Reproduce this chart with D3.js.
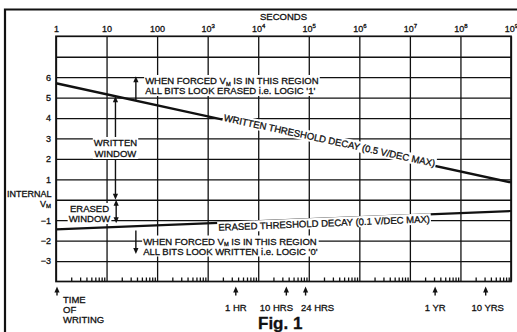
<!DOCTYPE html>
<html>
<head>
<meta charset="utf-8">
<script src="https://cdn.jsdelivr.net/npm/d3@7"></script>
<style>
  body { margin: 0; background: #fff; }
  svg { display: block; font-family: "Liberation Sans", Arial, Helvetica, sans-serif; }
  svg text { stroke: #111; stroke-width: 0.3; }
  .grid line { stroke: #111; stroke-width: 1.3; }
  .grid path { display: none; }
</style>
</head>
<body>
<svg id="chart" width="517" height="332"></svg>
<script>
// Time axis decades (seconds) and their printed labels ("10^n" = superscript)
const decades = [1, 1e1, 1e2, 1e3, 1e4, 1e5, 1e6, 1e7, 1e8, 1e9];
const decadeLabels = ["1", "10", "100", "10^3", "10^4", "10^5", "10^6", "10^7", "10^8", "10^9"];

// Voltage axis: grid rows and printed labels
const gridVolts = [-3, -2, -1, 0, 1, 2, 3, 4, 5, 6, 7];
const voltLabels = [6, 5, 4, 3, 2, 1, -1, -2, -3];

// Threshold decay lines: time (s) and internal V_M (volts)
const decayTimes = [1, 1e9];
const writtenDecay = [5.7, 0.85];
const erasedDecay = [-1.45, -0.55];

// Retention milestones marked under the time axis
const milestoneLabels = ["1 HR", "10 HRS", "24 HRS", "1 YR", "10 YRS"];
const milestoneSeconds = [3600, 36000, 86400, 3.156e7, 3.156e8];

const svg = d3.select("#chart");
const ink = "#111";

const x = d3.scaleLog().domain([1, 1e9]).range([56, 511]);
const y = d3.scaleLinear().domain([-4, 8]).range([281.5, 36.3]);
const plotW = x(1e9) - x(1), plotH = y(-4) - y(8);

// interpolate a straight decay line (linear in log time)
const along = (vals) => d3.scaleLinear().domain(decayTimes.map(Math.log10)).range(vals);
const writtenAt = t => along(writtenDecay)(Math.log10(t));
const erasedAt = t => along(erasedDecay)(Math.log10(t));

// outer page frame
svg.append("path")
  .attr("d", "M5,345V9.5H530")
  .attr("fill", "none").attr("stroke", ink).attr("stroke-width", 2.2);

// grid: vertical decade lines, horizontal volt lines
svg.append("g").attr("class", "grid")
  .attr("transform", `translate(0,${y(-4)})`)
  .call(d3.axisBottom(x).tickValues(decades).tickSize(-plotH).tickFormat(""));
svg.append("g").attr("class", "grid")
  .attr("transform", `translate(${x(1)},0)`)
  .call(d3.axisLeft(y).tickValues(gridVolts).tickSize(-plotW).tickFormat(""));

// minor log ticks along the bottom edge, pointing up
const minor = [];
decades.slice(0, -1).forEach(d => { for (let k = 2; k <= 9; k++) minor.push(d * k); });
svg.append("g").attr("class", "grid")
  .attr("transform", `translate(0,${y(-4)})`)
  .call(d3.axisBottom(x).tickValues(minor).tickSize(-4).tickFormat(""))
  .selectAll("line").attr("stroke-width", 1.1);

// plot frame
svg.append("rect")
  .attr("x", x(1)).attr("y", y(8)).attr("width", plotW).attr("height", plotH)
  .attr("fill", "none").attr("stroke", ink).attr("stroke-width", 1.7);

// top decade labels with superscript exponents
const topAxis = svg.append("g")
  .attr("transform", `translate(0,${y(8)})`)
  .call(d3.axisTop(x).tickValues(decades).tickSize(0).tickPadding(4).tickFormat(""));
topAxis.select(".domain").remove();
topAxis.selectAll(".tick text")
  .attr("font-size", 9).attr("fill", ink).attr("font-family", null)
  .each(function(d, i) {
    const parts = decadeLabels[i].split("^");
    const t = d3.select(this);
    t.append("tspan").text(parts[0]);
    if (parts[1]) t.append("tspan").attr("font-size", 6).attr("dy", -4).text(parts[1]);
  });

svg.append("text")
  .attr("x", (x(1) + x(1e9)) / 2).attr("y", 20)
  .attr("text-anchor", "middle").attr("font-size", 9.5).attr("fill", ink)
  .text("SECONDS");

// left volt labels
const leftAxis = svg.append("g")
  .attr("transform", `translate(${x(1)},0)`)
  .call(d3.axisLeft(y).tickValues(voltLabels).tickSize(0).tickPadding(5));
leftAxis.select(".domain").remove();
leftAxis.selectAll(".tick text").attr("font-size", 9).attr("fill", ink).attr("font-family", null);

svg.append("text")
  .attr("x", 7).attr("y", y(0) - 3).attr("font-size", 9).attr("fill", ink)
  .text("INTERNAL");
const vm = svg.append("text")
  .attr("x", x(1) - 5).attr("y", y(0) + 7).attr("text-anchor", "end")
  .attr("font-size", 9).attr("fill", ink);
vm.append("tspan").text("V");
vm.append("tspan").attr("font-size", 6).attr("dy", 1.5).text("M");

// decay lines
const lineGen = d3.line().x(d => x(d[0])).y(d => y(d[1]));
svg.append("path")
  .datum(decayTimes.map((t, i) => [t, writtenDecay[i]]))
  .attr("d", lineGen).attr("fill", "none").attr("stroke", ink).attr("stroke-width", 2.4);
svg.append("path")
  .datum(decayTimes.map((t, i) => [t, erasedDecay[i]]))
  .attr("d", lineGen).attr("fill", "none").attr("stroke", ink).attr("stroke-width", 2.2);

// text block with a white backing so grid lines break around it
function block(lines, px, py, opts = {}) {
  const g = svg.append("g");
  const size = opts.size || 9.5, lh = opts.lh || 11;
  const t = g.append("text")
    .attr("x", px).attr("y", py).attr("font-size", size).attr("fill", ink)
    .attr("text-anchor", opts.anchor || "start");
  lines.forEach((ln, i) => {
    const row = t.append("tspan").attr("x", px).attr("y", py + i * lh);
    ln.split("_M").forEach((seg, j) => {
      if (j > 0) {
        row.append("tspan").attr("font-size", size * 0.6).attr("dy", 1.5).text("M");
        row.append("tspan").attr("dy", -1.5).text(seg);
      } else row.append("tspan").text(seg);
    });
  });
  const b = t.node().getBBox();
  g.insert("rect", "text")
    .attr("x", b.x - 1).attr("y", b.y).attr("width", b.width + 2).attr("height", b.height)
    .attr("fill", "#fff");
  return g;
}

// vertical arrow with optional heads at each end
function arrow(px, y1, y2, headStart, headEnd) {
  const dir = Math.sign(y2 - y1);
  const hl = 6, hw = 2.6;
  svg.append("line")
    .attr("x1", px).attr("x2", px)
    .attr("y1", y1 + (headStart ? dir * hl * 0.8 : 0))
    .attr("y2", y2 - (headEnd ? dir * hl * 0.8 : 0))
    .attr("stroke", ink).attr("stroke-width", 1.4);
  const head = (tipY, d) => svg.append("path")
    .attr("d", `M${px},${tipY}L${px - hw},${tipY - d * hl}L${px + hw},${tipY - d * hl}Z`)
    .attr("fill", ink);
  if (headStart) head(y1, -dir);
  if (headEnd) head(y2, dir);
}

// region notes
block(["WHEN FORCED V_M IS IN THIS REGION", "ALL BITS LOOK ERASED i.e. LOGIC '1'"], x(58), 84, { lh: 10 });
arrow(x(38), y(writtenAt(38)), y(6.05), false, true);

block(["WHEN FORCED V_M IS IN THIS REGION", "ALL BITS LOOK WRITTEN i.e. LOGIC '0'"], x(53), 244.5, { lh: 10 });
arrow(x(38), y(-1.5), y(-2.65), false, true);

// window arrows
arrow(x(15), y(writtenAt(15)), y(0), true, true);
block(["WRITTEN", "WINDOW"], x(15), 146, { anchor: "middle", lh: 11 });

arrow(x(15.5), y(0), y(-1.15), true, true);
block(["ERASED", "WINDOW"], x(4.6), 212, { anchor: "middle", lh: 10 });

// rotated labels along the decay lines
function slopeLabel(text, t0, valueAt, offset) {
  const px = x(t0), py = y(valueAt(t0));
  const p2x = x(t0 * 10), p2y = y(valueAt(t0 * 10));
  const ang = Math.atan2(p2y - py, p2x - px) * 180 / Math.PI;
  const g = svg.append("g").attr("transform", `translate(${px},${py}) rotate(${ang})`);
  const t = g.append("text")
    .attr("x", 0).attr("y", offset).attr("text-anchor", "middle")
    .attr("font-size", 9.5).attr("fill", ink).text(text);
  const b = t.node().getBBox();
  g.insert("rect", "text")
    .attr("x", b.x - 1).attr("y", b.y).attr("width", b.width + 2).attr("height", b.height)
    .attr("fill", "#fff");
}
slopeLabel("WRITTEN THRESHOLD DECAY (0.5 V/DEC MAX)", Math.pow(10, 5.4), writtenAt, 1);
slopeLabel("ERASED THRESHOLD DECAY (0.1 V/DEC MAX)", Math.pow(10, 5.3), erasedAt, 8);

// time-of-writing and milestone markers
const markTop = y(-4) + 5, markBot = y(-4) + 14;
arrow(x(1) + 1, markBot, markTop, false, true);
block(["TIME", "OF", "WRITING"], x(1) + 7, 303, { lh: 10 });

const labelShift = [0, -10, 12, 0, 2];
milestoneSeconds.forEach((s, i) => {
  arrow(x(s), markBot, markTop, false, true);
  svg.append("text")
    .attr("x", x(s) + labelShift[i]).attr("y", 311)
    .attr("text-anchor", "middle").attr("font-size", 9.5).attr("fill", ink)
    .text(milestoneLabels[i]);
});

svg.append("text")
  .attr("x", 258).attr("y", 329)
  .attr("font-size", 17).attr("font-weight", "bold").attr("fill", ink)
  .text("Fig. 1");
</script>
</body>
</html>
